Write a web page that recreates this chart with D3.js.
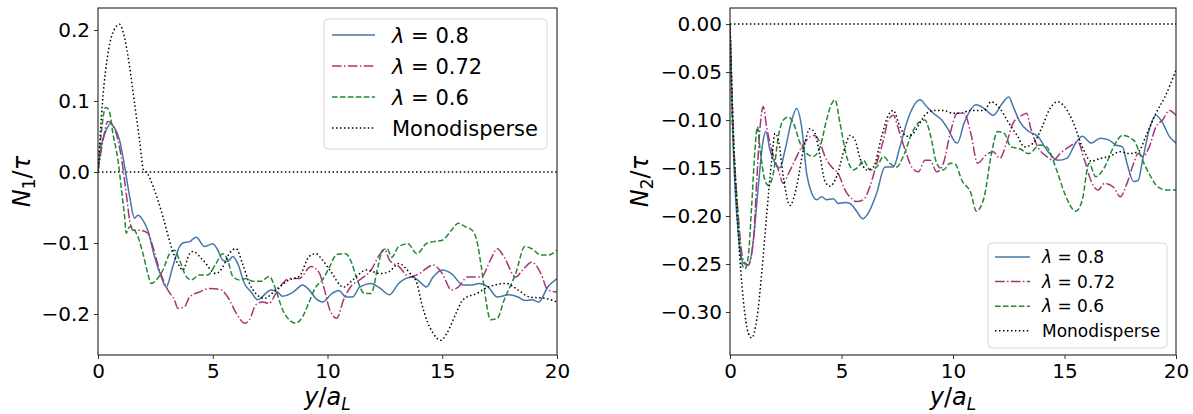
<!DOCTYPE html>
<html>
<head>
<meta charset="utf-8">
<script src="https://cdn.jsdelivr.net/npm/d3@7"></script>
<style>
  html, body { margin: 0; padding: 0; background: #fff; }
  svg { display: block; font-family: "DejaVu Sans", sans-serif; }
</style>
</head>
<body>
<svg id="chart" width="1193" height="414"></svg>
<script>
// ---- data: normal stress differences vs. distance from the wall ----
const xTicks = [0, 5, 10, 15, 20];
const n1Ticks = [0.2, 0.1, 0.0, -0.1, -0.2];
const n2Ticks = [0.00, -0.05, -0.10, -0.15, -0.20, -0.25, -0.30];
const seriesLabels = ["0.8", "0.72", "0.6", "Monodisperse"];

// First normal stress difference N1/tau
const n1Lam08 = [[0,0],[0.14,0.036],[0.36,0.059],[0.54,0.068],[0.72,0.062],[0.94,0.045],[1.16,0.008],[1.38,-0.035],[1.59,-0.065],[1.74,-0.061],[1.96,-0.068],[2.17,-0.082],[2.46,-0.119],[2.75,-0.147],[2.97,-0.162],[3.26,-0.133],[3.55,-0.105],[3.7,-0.1],[3.99,-0.098],[4.28,-0.092],[4.64,-0.105],[5.0,-0.101],[5.22,-0.11],[5.43,-0.124],[5.65,-0.126],[5.87,-0.119],[6.09,-0.129],[6.38,-0.157],[6.67,-0.169],[6.96,-0.18],[7.17,-0.175],[7.54,-0.166],[7.83,-0.169],[8.04,-0.175],[8.41,-0.171],[8.62,-0.166],[8.91,-0.159],[9.2,-0.166],[9.49,-0.178],[9.78,-0.183],[10.2,-0.171],[10.5,-0.167],[10.8,-0.176],[11.1,-0.176],[11.4,-0.162],[11.9,-0.157],[12.3,-0.164],[12.7,-0.173],[13.1,-0.157],[13.7,-0.148],[14.0,-0.154],[14.3,-0.162],[14.6,-0.148],[15.0,-0.138],[15.4,-0.143],[15.9,-0.159],[16.3,-0.159],[16.6,-0.157],[17.0,-0.162],[17.4,-0.176],[17.9,-0.173],[18.3,-0.176],[18.6,-0.181],[18.9,-0.18],[19.2,-0.183],[19.6,-0.162],[20,-0.15]];
const n1Lam072 = [[0,0],[0.22,0.045],[0.43,0.071],[0.58,0.069],[0.8,0.054],[1.01,0.022],[1.23,-0.03],[1.38,-0.068],[1.52,-0.082],[1.81,-0.082],[2.17,-0.086],[2.39,-0.105],[2.68,-0.138],[3.04,-0.166],[3.33,-0.18],[3.48,-0.192],[3.77,-0.19],[3.99,-0.176],[4.42,-0.169],[4.86,-0.164],[5.36,-0.166],[5.65,-0.176],[6.01,-0.198],[6.4,-0.213],[6.6,-0.208],[6.88,-0.187],[7.17,-0.183],[7.46,-0.185],[7.75,-0.171],[8.04,-0.157],[8.33,-0.15],[8.77,-0.15],[9.28,-0.133],[9.64,-0.142],[9.87,-0.166],[10.1,-0.194],[10.4,-0.206],[10.7,-0.18],[11.0,-0.162],[11.4,-0.152],[11.9,-0.138],[12.3,-0.115],[12.5,-0.11],[12.7,-0.124],[13.1,-0.133],[13.6,-0.148],[14.0,-0.143],[14.6,-0.131],[15.0,-0.143],[15.4,-0.166],[15.7,-0.162],[16.1,-0.148],[16.7,-0.148],[17.1,-0.124],[17.4,-0.108],[17.7,-0.12],[18.2,-0.148],[18.5,-0.138],[18.9,-0.127],[19.3,-0.143],[19.6,-0.166],[20,-0.169]];
const n1Lam06 = [[0,0],[0.14,0.054],[0.33,0.091],[0.48,0.087],[0.65,0.054],[0.87,0.017],[1.01,-0.021],[1.16,-0.063],[1.23,-0.086],[1.38,-0.077],[1.67,-0.086],[1.96,-0.115],[2.17,-0.143],[2.32,-0.157],[2.54,-0.152],[2.83,-0.138],[3.12,-0.115],[3.33,-0.11],[3.55,-0.124],[3.84,-0.147],[4.06,-0.152],[4.42,-0.145],[4.78,-0.145],[5.14,-0.129],[5.43,-0.115],[5.65,-0.124],[5.87,-0.147],[6.16,-0.152],[6.45,-0.15],[6.74,-0.154],[7.1,-0.154],[7.46,-0.147],[7.75,-0.166],[8.04,-0.194],[8.33,-0.208],[8.62,-0.213],[8.91,-0.204],[9.2,-0.183],[9.49,-0.162],[9.78,-0.152],[10.1,-0.133],[10.4,-0.116],[10.8,-0.115],[11.0,-0.124],[11.3,-0.152],[11.6,-0.171],[11.9,-0.171],[12.2,-0.133],[12.4,-0.11],[12.6,-0.108],[12.8,-0.12],[13.1,-0.105],[13.5,-0.101],[13.9,-0.115],[14.3,-0.101],[14.6,-0.098],[15.0,-0.096],[15.4,-0.082],[15.7,-0.072],[16.0,-0.077],[16.3,-0.082],[16.5,-0.096],[16.7,-0.133],[16.9,-0.18],[17.1,-0.208],[17.4,-0.206],[17.7,-0.18],[18.2,-0.143],[18.6,-0.105],[18.9,-0.108],[19.3,-0.117],[19.6,-0.117],[20,-0.11]];
const n1Mono = [[0,0],[0.2,0.1],[0.45,0.17],[0.7,0.2],[0.94,0.208],[1.15,0.19],[1.38,0.148],[1.6,0.095],[1.81,0.045],[1.99,0.002],[2.15,-0.002],[2.4,-0.02],[2.83,-0.063],[3.19,-0.105],[3.48,-0.129],[3.7,-0.138],[3.99,-0.115],[4.13,-0.112],[4.57,-0.124],[5.14,-0.143],[5.43,-0.134],[5.72,-0.115],[6.01,-0.108],[6.3,-0.129],[6.6,-0.157],[6.88,-0.171],[7.25,-0.178],[7.75,-0.166],[8.33,-0.152],[8.77,-0.147],[9.2,-0.119],[9.49,-0.115],[9.78,-0.124],[10.1,-0.138],[10.7,-0.162],[11.1,-0.152],[11.7,-0.138],[12.3,-0.143],[12.7,-0.14],[13.1,-0.129],[13.6,-0.143],[13.9,-0.157],[14.1,-0.185],[14.6,-0.227],[14.94,-0.237],[15.2,-0.227],[15.6,-0.199],[15.9,-0.18],[16.5,-0.171],[17.0,-0.162],[17.8,-0.157],[18.3,-0.166],[18.8,-0.176],[19.5,-0.178],[20,-0.183]];

// Second normal stress difference N2/tau
const n2Lam08 = [[0,0],[0.15,-0.131],[0.37,-0.218],[0.6,-0.249],[0.82,-0.251],[1.05,-0.225],[1.27,-0.169],[1.49,-0.121],[1.61,-0.112],[1.79,-0.131],[2.02,-0.145],[2.24,-0.15],[2.47,-0.131],[2.77,-0.1],[2.99,-0.088],[3.21,-0.107],[3.44,-0.156],[3.66,-0.176],[3.89,-0.183],[4.11,-0.18],[4.33,-0.183],[4.63,-0.182],[4.86,-0.187],[5.16,-0.186],[5.38,-0.187],[5.68,-0.195],[5.95,-0.203],[6.2,-0.197],[6.58,-0.176],[6.95,-0.149],[7.32,-0.149],[7.62,-0.128],[7.92,-0.103],[8.22,-0.086],[8.52,-0.079],[8.82,-0.086],[9.12,-0.093],[9.49,-0.1],[9.79,-0.11],[10.1,-0.123],[10.2,-0.124],[10.5,-0.103],[11.05,-0.084],[11.4,-0.088],[11.8,-0.095],[12.2,-0.083],[12.5,-0.076],[12.7,-0.086],[13.0,-0.102],[13.4,-0.112],[13.8,-0.117],[14.2,-0.131],[14.7,-0.142],[15.1,-0.14],[15.5,-0.124],[15.8,-0.117],[16.2,-0.124],[16.6,-0.119],[17.0,-0.121],[17.3,-0.126],[17.6,-0.128],[17.8,-0.145],[18.1,-0.164],[18.3,-0.163],[18.5,-0.142],[18.8,-0.11],[19.1,-0.095],[19.4,-0.103],[19.7,-0.117],[20,-0.124]];
const n2Lam072 = [[0,0],[0.15,-0.114],[0.37,-0.2],[0.6,-0.246],[0.82,-0.251],[1.05,-0.225],[1.2,-0.163],[1.35,-0.107],[1.49,-0.086],[1.64,-0.107],[1.87,-0.131],[2.17,-0.152],[2.39,-0.166],[2.62,-0.156],[2.91,-0.142],[3.21,-0.128],[3.51,-0.119],[3.81,-0.116],[4.04,-0.124],[4.26,-0.138],[4.56,-0.149],[4.86,-0.156],[5.16,-0.173],[5.46,-0.182],[5.68,-0.185],[5.98,-0.183],[6.28,-0.169],[6.58,-0.145],[6.88,-0.121],[7.1,-0.1],[7.32,-0.095],[7.55,-0.109],[7.85,-0.131],[8.15,-0.149],[8.45,-0.154],[8.74,-0.142],[8.97,-0.142],[9.27,-0.154],[9.57,-0.145],[9.87,-0.114],[10.2,-0.093],[10.5,-0.093],[10.8,-0.114],[11.1,-0.145],[11.5,-0.136],[11.8,-0.133],[12.1,-0.14],[12.4,-0.124],[12.7,-0.103],[13.1,-0.095],[13.3,-0.093],[13.5,-0.11],[13.8,-0.128],[14.2,-0.138],[14.5,-0.142],[14.8,-0.135],[15.2,-0.128],[15.6,-0.123],[15.9,-0.142],[16.2,-0.164],[16.5,-0.173],[16.8,-0.166],[17.2,-0.17],[17.5,-0.18],[17.8,-0.166],[18.1,-0.145],[18.3,-0.135],[18.5,-0.138],[18.8,-0.128],[19.1,-0.107],[19.4,-0.1],[19.7,-0.09],[20,-0.095]];
const n2Lam06 = [[0,0],[0.07,-0.079],[0.22,-0.149],[0.37,-0.2],[0.52,-0.249],[0.67,-0.255],[0.82,-0.242],[0.97,-0.19],[1.12,-0.131],[1.23,-0.107],[1.35,-0.131],[1.57,-0.163],[1.72,-0.168],[1.94,-0.156],[2.17,-0.117],[2.39,-0.1],[2.62,-0.097],[2.84,-0.103],[3.14,-0.124],[3.44,-0.135],[3.74,-0.138],[4.04,-0.128],[4.33,-0.1],[4.56,-0.083],[4.71,-0.079],[4.93,-0.103],[5.23,-0.138],[5.53,-0.152],[5.75,-0.149],[5.98,-0.142],[6.28,-0.152],[6.58,-0.149],[6.88,-0.138],[7.17,-0.145],[7.47,-0.149],[7.77,-0.138],[8.15,-0.114],[8.45,-0.103],[8.74,-0.1],[8.97,-0.114],[9.27,-0.145],[9.57,-0.152],[9.87,-0.145],[10.1,-0.146],[10.4,-0.163],[10.8,-0.176],[11.05,-0.195],[11.4,-0.18],[11.7,-0.138],[12.0,-0.112],[12.3,-0.114],[12.6,-0.128],[13.0,-0.13],[13.4,-0.135],[13.9,-0.126],[14.2,-0.128],[14.6,-0.149],[15.0,-0.176],[15.5,-0.195],[15.8,-0.183],[16.1,-0.145],[16.4,-0.159],[16.8,-0.149],[17.2,-0.128],[17.6,-0.116],[18.1,-0.121],[18.5,-0.142],[18.8,-0.156],[19.2,-0.17],[19.6,-0.173],[20,-0.173]];
const n2Mono = [[0,0],[0.15,-0.114],[0.37,-0.218],[0.6,-0.288],[0.82,-0.322],[0.97,-0.327],[1.2,-0.308],[1.42,-0.26],[1.64,-0.2],[1.87,-0.142],[2.02,-0.114],[2.17,-0.121],[2.39,-0.159],[2.69,-0.189],[2.99,-0.169],[3.29,-0.131],[3.59,-0.109],[3.81,-0.114],[4.04,-0.138],[4.26,-0.164],[4.48,-0.169],[4.78,-0.159],[5.16,-0.128],[5.38,-0.116],[5.61,-0.121],[5.83,-0.14],[6.13,-0.152],[6.43,-0.149],[6.8,-0.117],[7.1,-0.095],[7.32,-0.09],[7.62,-0.107],[7.92,-0.117],[8.22,-0.114],[8.52,-0.103],[8.82,-0.093],[9.19,-0.09],[9.57,-0.09],[10.0,-0.093],[10.3,-0.093],[10.8,-0.09],[11.4,-0.09],[11.7,-0.081],[12.1,-0.088],[12.5,-0.103],[12.9,-0.117],[13.2,-0.128],[13.6,-0.124],[14.0,-0.107],[14.3,-0.09],[14.7,-0.081],[15.0,-0.086],[15.4,-0.103],[15.8,-0.128],[16.2,-0.143],[16.6,-0.14],[17.0,-0.138],[17.5,-0.133],[17.9,-0.135],[18.3,-0.133],[18.7,-0.114],[19.1,-0.093],[19.5,-0.076],[20,-0.048]];

// ---- styles ----
const LW = 1.5;
const styles = [
  { color: "#4477AA", dash: null },
  { color: "#AA3377", dash: [6.4 * LW, 1.6 * LW, 1 * LW, 1.6 * LW].join(",") },
  { color: "#228833", dash: [3.7 * LW, 1.6 * LW].join(",") },
  { color: "#000000", dash: [1 * LW, 1.65 * LW].join(",") }
];

const svg = d3.select("#chart");

function fmtTick(d, digits) {
  const s = Math.abs(d).toFixed(digits);
  return (d < -1e-9 ? "\u2212" : "") + s;
}

function drawPanel(cfg) {
  const g = svg.append("g");
  const x = d3.scaleLinear().domain([0, 20]).range([cfg.left, cfg.right]);
  const y = d3.scaleLinear().domain(cfg.yDomain).range([cfg.bottom, cfg.top]);

  const clipId = "clip-" + cfg.name;
  svg.append("clipPath").attr("id", clipId)
    .append("rect").attr("x", cfg.left).attr("y", cfg.top)
    .attr("width", cfg.right - cfg.left).attr("height", cfg.bottom - cfg.top);

  const plot = g.append("g").attr("clip-path", `url(#${clipId})`);

  // zero reference line
  plot.append("line")
    .attr("x1", x(0)).attr("x2", x(20)).attr("y1", y(0)).attr("y2", y(0))
    .attr("stroke", "#000").attr("stroke-width", LW)
    .attr("stroke-dasharray", styles[3].dash);

  const line = d3.line().x(d => x(d[0])).y(d => y(d[1])).curve(d3.curveMonotoneX);
  cfg.series.forEach((s, i) => {
    plot.append("path").datum(s)
      .attr("d", line).attr("fill", "none")
      .attr("stroke", styles[i].color).attr("stroke-width", LW)
      .attr("stroke-dasharray", styles[i].dash);
  });

  // axes
  const xAxis = d3.axisBottom(x).tickValues(xTicks).tickSize(4).tickPadding(5).tickFormat(d => d);
  const yAxis = d3.axisLeft(y).tickValues(cfg.yTicks).tickSize(4).tickPadding(4)
    .tickFormat(d => fmtTick(d, cfg.digits));
  const gx = g.append("g").attr("transform", `translate(0,${cfg.bottom})`).call(xAxis);
  const gy = g.append("g").attr("transform", `translate(${cfg.left},0)`).call(yAxis);
  [gx, gy].forEach(a => {
    a.selectAll("text").attr("font-size", 20).attr("fill", "#000")
      .attr("font-family", "DejaVu Sans");
    a.selectAll(".tick line").attr("stroke", "#333");
    a.select(".domain").remove();
  });

  // frame
  g.append("rect")
    .attr("x", cfg.left).attr("y", cfg.top)
    .attr("width", cfg.right - cfg.left).attr("height", cfg.bottom - cfg.top)
    .attr("fill", "none").attr("stroke", "#222").attr("stroke-width", 1.1);

  // x label  y/a_L
  const xl = g.append("text")
    .attr("x", (cfg.left + cfg.right) / 2).attr("y", 405)
    .attr("text-anchor", "middle").attr("font-size", 24);
  xl.append("tspan").attr("font-style", "italic").text("y");
  xl.append("tspan").text("/");
  xl.append("tspan").attr("font-style", "italic").text("a");
  xl.append("tspan").attr("font-style", "italic").attr("font-size", 17).attr("dy", 5).text("L");

  // y label  N_k/tau
  const yl = g.append("text")
    .attr("transform", `translate(${cfg.ylabelX},${(cfg.top + cfg.bottom) / 2}) rotate(-90)`)
    .attr("text-anchor", "middle").attr("font-size", 24);
  yl.append("tspan").attr("font-style", "italic").text("N");
  yl.append("tspan").attr("font-size", 17).attr("dy", 5).text(cfg.sub);
  yl.append("tspan").attr("dy", -5).text("/");
  yl.append("tspan").attr("font-style", "italic").text("\u03C4");

  // legend
  const L = cfg.legend;
  const lg = g.append("g");
  lg.append("rect").attr("x", L.x).attr("y", L.y).attr("width", L.w).attr("height", L.h)
    .attr("rx", 4).attr("fill", "#fff").attr("fill-opacity", 0.85)
    .attr("stroke", "#d6d6d6").attr("stroke-width", 1);
  seriesLabels.forEach((lab, i) => {
    const cy = L.y0 + i * L.dy;
    lg.append("line").attr("x1", L.sx0).attr("x2", L.sx1).attr("y1", cy).attr("y2", cy)
      .attr("stroke", styles[i].color).attr("stroke-width", LW)
      .attr("stroke-dasharray", styles[i].dash);
    const t = lg.append("text").attr("x", L.tx).attr("y", cy)
      .attr("dy", "0.36em").attr("font-size", L.fs);
    if (i < 3) {
      t.append("tspan").attr("font-style", "italic").text("\u03BB");
      t.append("tspan").text(" = " + lab);
    } else {
      t.text(lab);
    }
  });
}

drawPanel({
  name: "n1", left: 98, right: 557, top: 8, bottom: 355,
  yDomain: [-0.2577, 0.2310], yTicks: n1Ticks, digits: 1, sub: "1", ylabelX: 30,
  series: [n1Lam08, n1Lam072, n1Lam06, n1Mono],
  legend: { x: 324, y: 19, w: 223, h: 130, y0: 35, dy: 31, sx0: 332, sx1: 375, tx: 392, fs: 21 }
});

drawPanel({
  name: "n2", left: 730, right: 1176, top: 8, bottom: 355,
  yDomain: [-0.3448, 0.0167], yTicks: n2Ticks, digits: 2, sub: "2", ylabelX: 648,
  series: [n2Lam08, n2Lam072, n2Lam06, n2Mono],
  legend: { x: 988, y: 243, w: 179, h: 105, y0: 257, dy: 24.6, sx0: 995, sx1: 1030, tx: 1042, fs: 17 }
});
</script>
</body>
</html>
